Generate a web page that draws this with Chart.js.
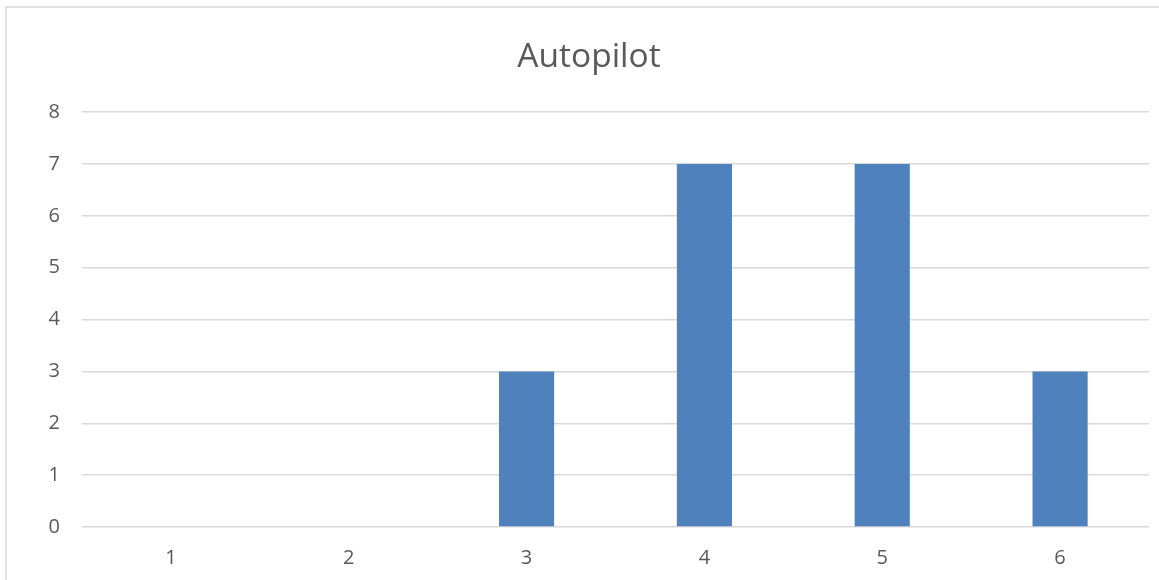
<!DOCTYPE html>
<html>
<head>
<meta charset="utf-8">
<script src="https://cdn.jsdelivr.net/npm/chart.js@4.4.1/dist/chart.umd.min.js"></script>
<style>
  html, body { margin: 0; padding: 0; background: #ffffff; }
  #wrap { position: relative; width: 1159px; height: 580px; }
</style>
</head>
<body>
<div id="wrap"><canvas id="chart" width="1159" height="580"></canvas></div>
<script>
// Autopilot counts per category
const categories = ['1', '2', '3', '4', '5', '6'];
const counts = [0, 0, 3, 7, 7, 3];
const yTicks = [0, 1, 2, 3, 4, 5, 6, 7, 8];

const textColor = '#595959';
const gridColor = '#d9d9d9';
const fontFamily = "'Open Sans', 'Liberation Sans', sans-serif";

// Light frame around the whole chart
const frame = {
  id: 'frame',
  beforeDraw(chart) {
    const ctx = chart.ctx;
    ctx.save();
    ctx.fillStyle = '#ffffff';
    ctx.fillRect(0, 0, chart.width, chart.height);
    ctx.strokeStyle = gridColor;
    ctx.lineWidth = 1.5;
    ctx.strokeRect(6, 7, chart.width + 20, chart.height + 20);
    ctx.restore();
  }
};

new Chart(document.getElementById('chart'), {
  type: 'bar',
  data: {
    labels: categories,
    datasets: [{
      label: 'Autopilot',
      data: counts,
      backgroundColor: '#4f81bd',
      borderWidth: 0,
      categoryPercentage: 1,
      barPercentage: 0.31
    }]
  },
  options: {
    responsive: false,
    animation: false,
    layout: { padding: { left: 29, right: 10, top: 7, bottom: 0 } },
    plugins: {
      legend: { display: false },
      tooltip: { enabled: false },
      title: {
        display: true,
        text: 'Autopilot',
        color: textColor,
        font: { family: fontFamily, size: 33.5, weight: 'normal', lineHeight: 1.2 },
        padding: { top: 30, bottom: 35 }
      }
    },
    scales: {
      x: {
        grid: { display: false, drawTicks: false },
        border: { display: false },
        ticks: { color: textColor, font: { family: fontFamily, size: 20 }, padding: 19 },
        afterFit(scale) { scale.height = 53; }
      },
      y: {
        min: 0,
        max: 8,
        afterBuildTicks(scale) { scale.ticks = yTicks.map(v => ({ value: v })); },
        grid: { color: gridColor, lineWidth: 1.5, drawTicks: false },
        border: { display: false },
        ticks: { color: textColor, font: { family: fontFamily, size: 20 }, padding: 22 },
        afterFit(scale) { scale.width = 53; }
      }
    }
  },
  plugins: [frame]
});
</script>
</body>
</html>
